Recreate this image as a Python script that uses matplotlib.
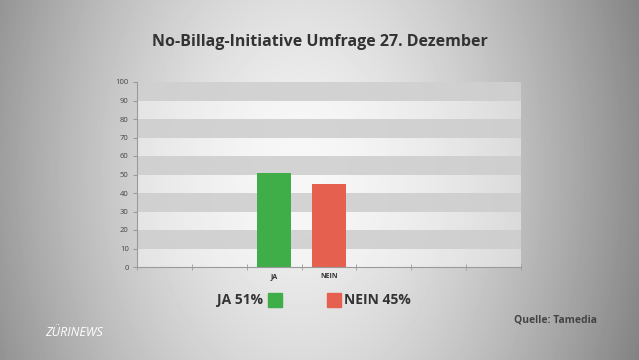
import numpy as np
import matplotlib
matplotlib.use("Agg")
import matplotlib.pyplot as plt
from matplotlib.patches import Rectangle

# data
categories = ['', '', 'JA', 'NEIN', '', '', '']
values = [0, 0, 51, 45, 0, 0, 0]
bar_colors = ['#3fae49', '#3fae49', '#3fae49', '#e5604f', '#3fae49', '#3fae49', '#3fae49']
legend_cats = ['JA', 'NEIN']
legend_vals = [51, 45]
legend_colors = ['#3fae49', '#e5604f']
yticks = list(range(0, 101, 10))
title = "No-Billag-Initiative Umfrage 27. Dezember"
source = "Quelle: Tamedia"
brand = "ZÜRINEWS"

W, H = 639, 360
fig = plt.figure(figsize=(W / 100, H / 100), dpi=100)

# background: elliptical radial gradient
bg = fig.add_axes([0, 0, 1, 1], zorder=0)
xx, yy = np.meshgrid(np.arange(W), np.arange(H))
r = np.sqrt(((xx - 300) / 340.0) ** 2 + ((yy - 170) / 500.0) ** 2)
val = np.clip(0.95 - 0.40 * r ** 1.5, 0, 1)
bg.imshow(val, cmap='gray', vmin=0, vmax=1, aspect='auto', extent=[0, W, H, 0])
bg.set_xlim(0, W)
bg.set_ylim(H, 0)
bg.axis('off')

ax = fig.add_axes([137 / W, 1 - 267 / H, 384 / W, 185 / H], zorder=1)
ax.patch.set_alpha(0)
n = len(categories)
ax.set_xlim(-0.5, n - 0.5)
ax.set_ylim(0, 100)

# horizontal bands
for lo in range(0, 100, 10):
    if (lo // 10) % 2 == 1:
        ax.axhspan(lo, lo + 10, color='#d0d0d0', alpha=0.9, lw=0, zorder=0)
    else:
        ax.axhspan(lo, lo + 10, color='white', alpha=0.45, lw=0, zorder=0)

x = np.arange(n)
ax.bar(x, values, width=0.62, color=bar_colors, zorder=2)

for s in ['top', 'right']:
    ax.spines[s].set_visible(False)
for s in ['left', 'bottom']:
    ax.spines[s].set_color('#9a9a9a')
    ax.spines[s].set_linewidth(0.8)

ax.set_yticks(yticks)
ax.set_yticklabels([str(t) for t in yticks], fontsize=5.5, color='#444444',
                   family='Open Sans')
ax.tick_params(axis='y', length=3, color='#9a9a9a', pad=3)

ax.set_xticks(x)
ax.set_xticklabels(categories, fontsize=5, fontweight='bold', color='#333333',
                   family='Open Sans')
ax.set_xticks(np.arange(-0.5, n, 1), minor=True)
ax.tick_params(axis='x', which='major', length=0, pad=4)
ax.tick_params(axis='x', which='minor', length=4, direction='inout', color='#9a9a9a')

fig.text(320 / W, 1 - 42 / H, title, ha='center', va='center', fontsize=11.5,
         fontweight='bold', color='#333333', family='Open Sans')

# legend
ly = 1 - 300 / H
sq_w, sq_h = 14 / W, 14 / H
fig.text(263 / W, ly, f"{legend_cats[0]} {legend_vals[0]}%", ha='right', va='center',
         fontsize=10, fontweight='bold', color='#333333', family='Open Sans')
fig.patches.append(Rectangle((268 / W, ly - sq_h / 2), sq_w, sq_h, color=legend_colors[0],
                             transform=fig.transFigure, figure=fig))
fig.patches.append(Rectangle((327 / W, ly - sq_h / 2), sq_w, sq_h, color=legend_colors[1],
                             transform=fig.transFigure, figure=fig))
fig.text(344 / W, ly, f"{legend_cats[1]} {legend_vals[1]}%", ha='left', va='center',
         fontsize=10, fontweight='bold', color='#333333', family='Open Sans')

fig.text(597 / W, 1 - 320 / H, source, ha='right', va='center', fontsize=7.5,
         fontweight='bold', color='#444444', family='Open Sans')
fig.text(45 / W, 1 - 333 / H, brand, ha='left', va='center', fontsize=9,
         color='white', family='Open Sans', style='italic')

fig.savefig("out.png", dpi=100)
